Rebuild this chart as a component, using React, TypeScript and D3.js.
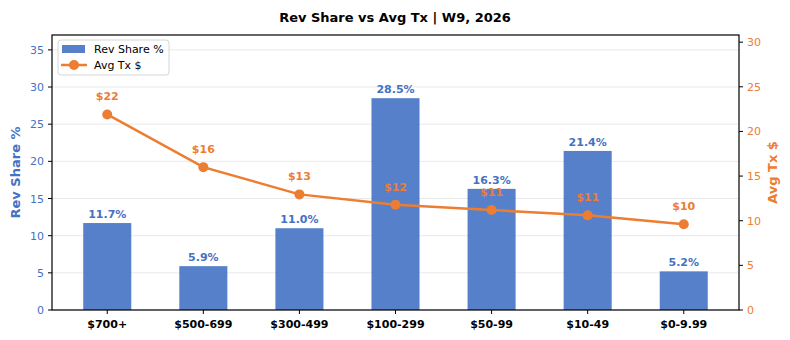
import React from "react";
import * as d3 from "d3";

const categories = ["$700+", "$500-699", "$300-499", "$100-299", "$50-99", "$10-49", "$0-9.99"];
const revShare = [11.7, 5.9, 11.0, 28.5, 16.3, 21.4, 5.2];
const avgTx = [21.9, 16.0, 12.95, 11.8, 11.2, 10.6, 9.6];
const leftTicks = [0, 5, 10, 15, 20, 25, 30, 35];
const rightTicks = [0, 5, 10, 15, 20, 25, 30];

const W = 790, H = 340;
const L = 52, R = 739, T = 35, B = 310;
const BLUE = "#4472C4";
const ORANGE = "#ED7D31";
const FONT = "DejaVu Sans, sans-serif";

export default function App() {
  const x = d3.scaleLinear().domain([-0.575, 6.575]).range([L, R]);
  const yL = d3.scaleLinear().domain([0, 37]).range([B, T]);
  const yR = d3.scaleLinear().domain([0, 30.8]).range([B, T]);
  const bw = x(0.5) - x(0);
  const line = d3.line<number>().x((_, i) => x(i)).y((d) => yR(d));

  return (
    <svg width={W} height={H} style={{ position: "absolute", left: 0, top: 0, fontFamily: FONT }}>
      <rect width={W} height={H} fill="#fff" />
      <text x={395} y={22} textAnchor="middle" fontSize={13} fontWeight="bold" fill="#000">
        Rev Share vs Avg Tx | W9, 2026
      </text>
      {leftTicks.map((t) => (
        <line key={"g" + t} x1={L} x2={R} y1={yL(t)} y2={yL(t)} stroke="#e3e3e3" strokeWidth={0.8} />
      ))}
      {revShare.map((v, i) => (
        <g key={"b" + i}>
          <rect x={x(i) - bw / 2} y={yL(v)} width={bw} height={B - yL(v)} fill={BLUE} fillOpacity={0.9} />
          <text x={x(i)} y={yL(v) - 5} textAnchor="middle" fontSize={11} fontWeight="bold" fill={BLUE}>
            {v.toFixed(1)}%
          </text>
        </g>
      ))}
      <path d={line(avgTx) || ""} fill="none" stroke={ORANGE} strokeWidth={2.5} />
      {avgTx.map((v, i) => (
        <g key={"p" + i}>
          <circle cx={x(i)} cy={yR(v)} r={5} fill={ORANGE} />
          <text x={x(i)} y={yR(v) - 14} textAnchor="middle" fontSize={11} fontWeight="bold" fill={ORANGE}>
            ${Math.round(v)}
          </text>
        </g>
      ))}
      <rect x={L} y={T} width={R - L} height={B - T} fill="none" stroke="#000" strokeWidth={1.2} />
      {leftTicks.map((t) => (
        <g key={"l" + t}>
          <line x1={L - 4} x2={L} y1={yL(t)} y2={yL(t)} stroke="#000" />
          <text x={L - 8} y={yL(t) + 4} textAnchor="end" fontSize={11} fill={BLUE}>{t}</text>
        </g>
      ))}
      {rightTicks.map((t) => (
        <g key={"r" + t}>
          <line x1={R} x2={R + 4} y1={yR(t)} y2={yR(t)} stroke="#000" />
          <text x={R + 8} y={yR(t) + 4} textAnchor="start" fontSize={11} fill={ORANGE}>{t}</text>
        </g>
      ))}
      {categories.map((c, i) => (
        <g key={"c" + i}>
          <line x1={x(i)} x2={x(i)} y1={B} y2={B + 4} stroke="#000" />
          <text x={x(i)} y={B + 18} textAnchor="middle" fontSize={11} fontWeight="bold" fill="#000">{c}</text>
        </g>
      ))}
      <text transform={`translate(20,${(T + B) / 2}) rotate(-90)`} textAnchor="middle" fontSize={13} fontWeight="bold" fill={BLUE}>
        Rev Share %
      </text>
      <text transform={`translate(777,${(T + B) / 2}) rotate(-90)`} textAnchor="middle" fontSize={13} fontWeight="bold" fill={ORANGE}>
        Avg Tx $
      </text>
      <g>
        <rect x={58} y={40} width={111} height={35} rx={3} fill="#fff" fillOpacity={0.8} stroke="#ccc" strokeWidth={0.8} />
        <rect x={62} y={45} width={23} height={8} fill={BLUE} fillOpacity={0.9} />
        <text x={94} y={53} fontSize={11} fill="#000">Rev Share %</text>
        <line x1={61} x2={87} y1={65} y2={65} stroke={ORANGE} strokeWidth={2.5} />
        <circle cx={74} cy={65} r={5} fill={ORANGE} />
        <text x={94} y={69} fontSize={11} fill="#000">Avg Tx $</text>
      </g>
    </svg>
  );
}
